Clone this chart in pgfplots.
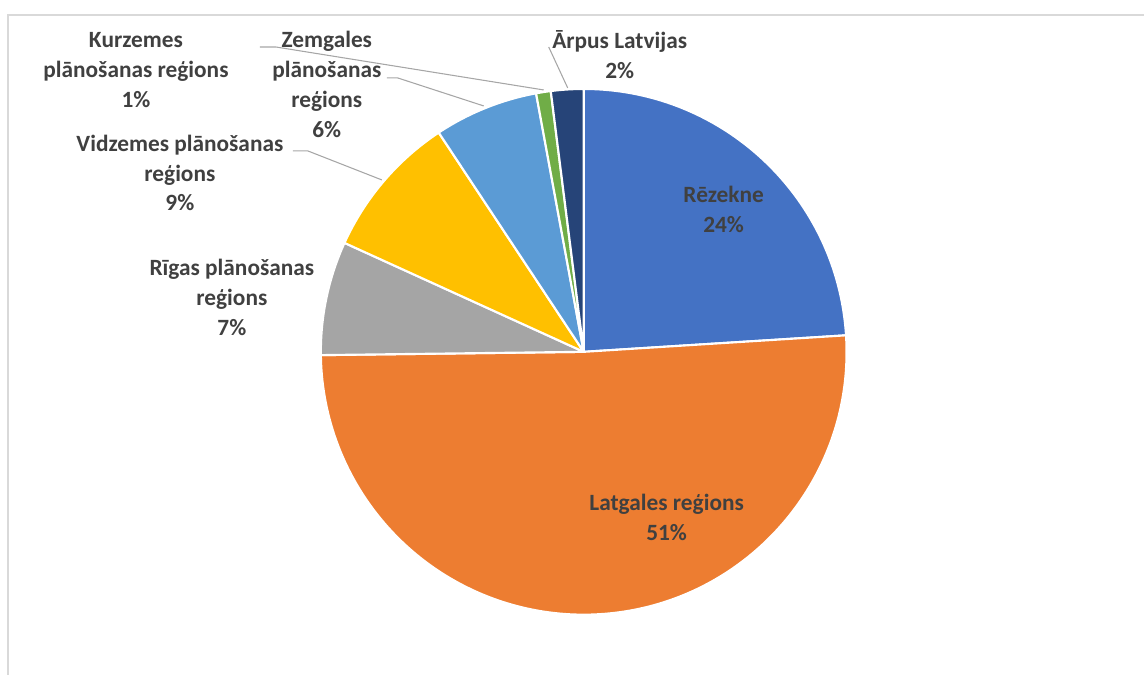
\documentclass[border=0pt]{standalone}
\usepackage{pgfplots}
\pgfplotsset{compat=1.18}
\usepackage{pgfplotstable}
\usepackage{fontspec}
\setmainfont{Carlito}

\definecolor{pie0}{HTML}{4472C4}
\definecolor{pie1}{HTML}{ED7D31}
\definecolor{pie2}{HTML}{A5A5A5}
\definecolor{pie3}{HTML}{FFC000}
\definecolor{pie4}{HTML}{5B9BD5}
\definecolor{pie5}{HTML}{70AD47}
\definecolor{pie6}{HTML}{264478}
\definecolor{lbl}{HTML}{404040}
\definecolor{lead}{HTML}{A6A6A6}
\definecolor{frame}{HTML}{D9D9D9}

\tikzset{lab/.style={font=\fontsize{17.5}{22.5}\selectfont\bfseries, text=lbl, align=center, inner sep=0pt}}

% shares in percent, clockwise from 12 o'clock
\pgfplotstableread{
region value
Rezekne 24.0
Latgale 50.8
Riga 7.0
Vidzeme 8.9
Zemgale 6.4
Kurzeme 0.9
Arpus 2.0
}\piedata

\begin{document}
\begin{tikzpicture}
% start/end angles of each slice
\gdef\cum{0}
\pgfplotstableforeachcolumnelement{value}\of\piedata\as\v{%
  \pgfmathsetmacro\sa{90-3.6*\cum}%
  \pgfmathsetmacro\newcum{\cum+\v}%
  \pgfmathsetmacro\ea{90-3.6*\newcum}%
  \expandafter\xdef\csname a\pgfplotstablerow\endcsname{\sa}%
  \expandafter\xdef\csname b\pgfplotstablerow\endcsname{\ea}%
  \xdef\cum{\newcum}%
}
\begin{axis}[
    scale only axis,
    width=858.75pt, height=506.25pt,
    xmin=0, xmax=1145, ymin=0, ymax=675,
    y dir=reverse,
    hide axis, clip=false,
]
\path (axis cs:0,0) rectangle (axis cs:1145,675);
\draw[frame, line width=0.9pt] (axis cs:8,675) -- (axis cs:8,15) -- (axis cs:1145,15);

\pgfplotsinvokeforeach{0,...,6}{
  \fill[fill=pie#1, draw=white, line width=1.6pt, line join=round]
    (axis cs:584,352) -- ++(\csname a#1\endcsname:197.25pt)
    arc[start angle=\csname a#1\endcsname, end angle=\csname b#1\endcsname, radius=197.25pt] -- cycle;
}

% leader lines
\draw[lead, line width=0.8pt] (axis cs:260,47) -- (axis cs:276,47) -- (axis cs:544,90);
\draw[lead, line width=0.8pt] (axis cs:387,78) -- (axis cs:398,78) -- (axis cs:484,106);
\draw[lead, line width=0.8pt] (axis cs:293,151) -- (axis cs:308,151) -- (axis cs:382,180);
\draw[lead, line width=0.8pt] (axis cs:549,47) -- (axis cs:568,88);

% labels
\node[lab] at (axis cs:724,210) {Rēzekne\\24\%};
\node[lab] at (axis cs:667,518) {Latgales reģions\\51\%};
\node[lab] at (axis cs:232,298) {Rīgas plānošanas\\reģions\\7\%};
\node[lab] at (axis cs:180,173) {Vidzemes plānošanas\\reģions\\9\%};
\node[lab] at (axis cs:327,84) {Zemgales\\plānošanas\\reģions\\6\%};
\node[lab] at (axis cs:136,70) {Kurzemes\\plānošanas reģions\\1\%};
\node[lab] at (axis cs:620,55) {Ārpus Latvijas\\2\%};
\end{axis}
\end{tikzpicture}
\end{document}
